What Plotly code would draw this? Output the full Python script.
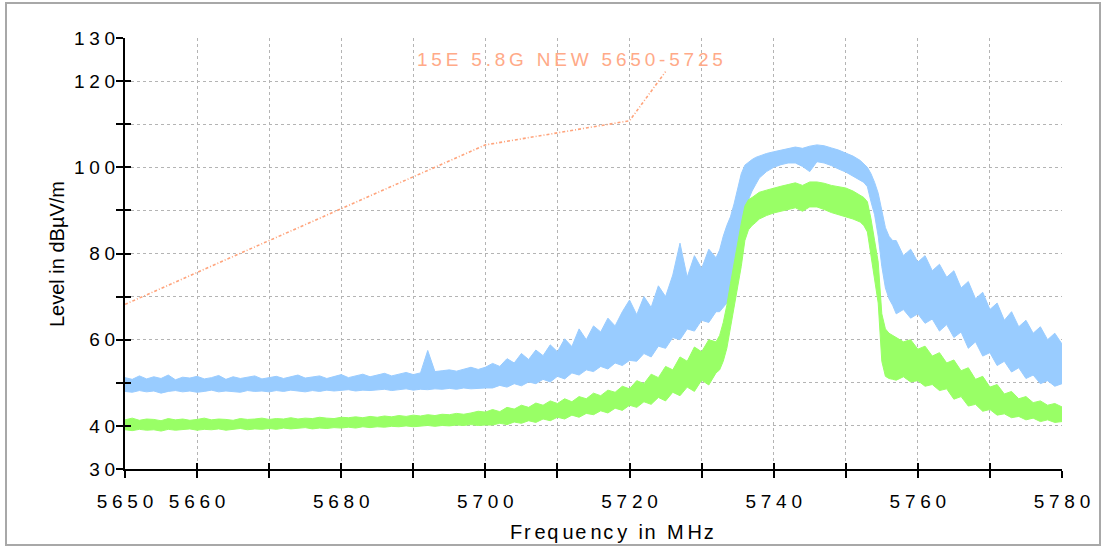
import plotly.graph_objects as go

# ---------------- data ----------------
freq_mhz = (list(range(5650, 5733))
            + [5732.5, 5733, 5733.5, 5734, 5734.5, 5735, 5735.5, 5736, 5736.5, 5737, 5737.5]
            + list(range(5738, 5753))
            + [5752.5, 5753, 5753.5, 5754, 5754.5, 5755, 5755.5, 5756, 5756.5]
            + list(range(5757, 5781)))

peak_max = [
    # 5650..5700
    51.2, 50.8, 51.6, 50.9, 51.4, 51.0, 51.8, 50.7, 51.3, 51.1,
    51.5, 50.9, 51.2, 51.7, 50.8, 51.4, 51.0, 51.3, 51.6, 50.9,
    51.2, 51.5, 51.0, 51.4, 51.8, 51.1, 51.3, 51.6, 51.0, 51.5,
    51.9, 51.2, 51.6, 52.0, 51.4, 51.8, 52.2, 51.6, 52.0, 52.4,
    51.9, 52.3, 57.5, 52.6, 52.8, 53.0, 52.7, 53.2, 53.6, 53.1,
    53.6,
    # 5701..5732
    54.5, 53.8, 55.6, 54.6, 56.8, 55.4, 57.6, 56.3, 58.8, 57.2,
    60.2, 58.4, 62.5, 60.0, 63.2, 61.8, 65.0, 63.2, 66.5, 69.2,
    65.8, 70.0, 67.5, 72.5, 70.0, 75.0, 82.4, 74.5, 79.5, 76.5,
    81.0, 79.0,
    # 5732.5..5737.5
    80.8, 84.0, 86.5, 88.5, 91.5, 95.0, 98.5, 100.5, 101.2, 101.8, 102.3,
    # 5738..5752
    102.6, 103.2, 103.6, 104.0, 104.4, 104.7, 104.4, 104.9, 105.2, 105.0,
    104.5, 104.0, 103.3, 102.6, 101.6,
    # 5752.5..5756.5
    100.8, 100.0, 98.5, 96.5, 94.0, 90.0, 86.0, 84.0, 83.0,
    # 5757..5780
    83.0, 79.5, 81.0, 78.0, 79.5, 76.0, 77.5, 74.5, 76.0, 72.0,
    73.5, 69.5, 71.0, 67.0, 68.5, 64.5, 66.5, 63.0, 64.5, 61.5,
    63.0, 60.0, 61.5, 59.0,
]
peak_min = [
    48.0, 47.8, 48.2, 47.9, 48.1, 47.6, 48.0, 48.2, 47.9, 48.1,
    47.8, 48.0, 48.3, 47.9, 48.1, 48.0, 47.8, 48.2, 48.0, 48.1,
    47.9, 48.2, 48.0, 48.3, 48.1, 47.9, 48.2, 48.0, 48.3, 48.1,
    48.2, 48.4, 48.1, 48.3, 48.2, 48.4, 48.5, 48.2, 48.4, 48.6,
    48.3, 48.5, 48.4, 48.6, 48.5, 48.7, 48.5, 48.8, 48.6, 48.7,
    48.8,
    48.8, 49.4, 49.0, 49.8, 49.3, 50.2, 49.8, 50.8, 50.2, 51.5,
    50.9, 52.3, 51.8, 53.0, 52.6, 53.8, 53.2, 54.6, 54.0, 55.2,
    55.0, 56.8, 56.0, 58.5, 58.0, 60.5, 60.0, 62.5, 62.0, 64.5,
    64.0, 66.5,
    66.5, 67.5, 68.5, 70.0, 72.0, 76.0, 83.0, 88.5, 92.5, 94.5, 96.0,
    97.5, 99.0, 100.0, 100.6, 101.0, 101.0, 100.2, 99.0, 101.3, 101.0,
    100.4, 99.6, 98.9, 98.0, 97.0,
    96.5, 95.5, 92.0, 89.0, 84.0, 77.0, 72.0, 69.5, 68.0,
    66.0, 67.0, 65.0, 66.0, 63.8, 64.8, 62.0, 63.5, 60.5, 61.8,
    58.0, 59.5, 56.2, 57.0, 54.0, 55.0, 52.5, 53.5, 51.0, 51.8,
    49.8, 50.5, 49.2, 49.8,
]
avg_max = [
    41.4, 41.8, 41.3, 41.6, 41.5, 41.2, 41.7, 41.4, 41.6, 41.3,
    41.5, 41.8, 41.4, 41.6, 41.5, 41.3, 41.7, 41.5, 41.6, 41.8,
    41.5, 41.7, 41.6, 41.9, 41.6, 41.8, 41.7, 42.0, 41.8, 41.7,
    42.0, 41.9, 42.1, 41.9, 42.2, 42.0, 42.3, 42.1, 42.4, 42.2,
    42.5, 42.3, 42.6, 42.4, 42.7, 42.6, 42.9, 42.7, 43.0, 43.4,
    43.2,
    43.8, 43.3, 44.3, 43.9, 44.8, 44.3, 45.3, 44.8, 45.8, 45.2,
    46.3, 45.6, 46.8, 46.3, 47.6, 47.0, 48.3, 47.8, 49.2, 48.6,
    50.5, 49.8, 52.0, 51.2, 53.8, 53.0, 56.0, 55.0, 58.3, 57.2,
    60.0, 59.5,
    61.0, 64.0, 68.0, 73.0, 78.0, 83.0, 87.0, 91.0, 92.5, 93.0, 93.6,
    94.2, 94.7, 95.2, 95.6, 96.0, 96.4, 95.8, 96.6, 96.6, 96.3,
    95.8, 95.5, 95.2, 94.5, 93.5,
    93.0, 92.0, 88.0, 83.0, 78.0, 66.0, 62.5, 61.5, 61.0,
    60.5, 59.5, 60.0, 57.8, 58.5, 56.2, 57.0, 54.6, 55.3, 52.8,
    53.5, 50.8, 51.5, 49.0, 49.6, 47.4, 48.0, 46.3, 46.8, 45.4,
    45.8, 44.8, 45.2, 44.4,
]
avg_min = [
    39.1, 38.9, 39.2, 39.0, 39.1, 38.8, 39.2, 39.0, 39.1, 39.3,
    39.0, 39.2, 39.1, 39.3, 39.0, 39.2, 39.4, 39.1, 39.3, 39.2,
    39.4, 39.2, 39.5, 39.3, 39.4, 39.6, 39.3, 39.5, 39.4, 39.6,
    39.5, 39.7, 39.5, 39.8, 39.6, 39.8, 39.7, 39.9, 39.8, 40.0,
    39.8, 40.0, 40.1, 39.9, 40.1, 40.0, 40.2, 40.1, 40.3, 40.1,
    40.2,
    40.2, 40.6, 40.3, 40.9, 40.6, 41.2, 40.8, 41.6, 41.2, 42.0,
    41.6, 42.5, 42.0, 42.9, 42.6, 43.5, 43.0, 44.1, 43.6, 44.8,
    44.3, 45.6, 45.0, 46.6, 45.8, 47.8, 47.0, 49.0, 48.0, 50.6,
    49.5, 52.3,
    53.0, 55.0, 58.0, 62.3, 68.0, 72.0, 77.0, 83.0, 85.5, 86.5, 87.2,
    88.0, 88.8, 89.4, 89.8, 90.2, 90.6, 89.8, 90.8, 90.8, 90.2,
    89.5, 89.0, 88.5, 88.0, 87.3,
    86.5, 85.0, 80.0, 74.0, 68.5, 55.0, 51.5, 51.0, 50.8,
    50.6, 51.4, 50.2, 50.5, 49.2, 49.6, 48.2, 48.6, 46.2, 46.8,
    44.6, 45.0, 43.4, 43.8, 42.5, 42.8, 41.9, 42.2, 41.4, 41.8,
    41.0, 41.4, 40.8, 41.0,
]

limit_freq = [5650, 5700, 5720, 5725]
limit_level = [68.2, 105.2, 110.8, 122.2]
limit_name = "15E 5.8G NEW 5650-5725"

x_tickvals = list(range(5650, 5790, 10))
x_ticktext = ["5650", "5660", "", "5680", "", "5700", "", "5720", "", "5740", "", "5760", "", "5780"]
y_tickvals = list(range(30, 140, 10))
y_ticktext = ["30", "40", "", "60", "", "80", "", "100", "", "120", "130"]
x_title = "Frequency in MHz"
y_title = "Level in dBµV/m"

# ---------------- styling ----------------
W, H = 1106, 547
L, R, T, B = 125, 44, 38, 78
FONT = "Liberation Sans, Arial, sans-serif"
SP = "\u2005"   # wide letter spacing for ticks
TS = "\u2009"   # thin spacing
HS = "\u200A"   # hair spacing


def spaced(s, sep):
    return sep.join(list(s))


def spaced_alt(s):
    out = ""
    for i, ch in enumerate(s):
        out += ch
        if i < len(s) - 1:
            out += TS if i % 2 else HS
    return out


fig = go.Figure()

def band(x, lo, hi, color):
    return go.Scatter(x=list(x) + list(x)[::-1], y=list(hi) + list(lo)[::-1],
                      fill="toself", fillcolor=color, mode="lines",
                      line=dict(color=color, width=1), hoverinfo="skip",
                      showlegend=False)

fig.add_trace(band(freq_mhz, peak_min, peak_max, "#99CCFF"))
fig.add_trace(band(freq_mhz, avg_min, avg_max, "#99FF66"))
fig.add_trace(go.Scatter(x=limit_freq, y=limit_level, mode="lines",
                         line=dict(color="#FFA47C", width=1.6, dash="3px,2px,1px,2px"),
                         showlegend=False))
# overlay axes give ticks that cross the axis line
fig.add_trace(go.Scatter(x=[], y=[], xaxis="x2", yaxis="y2", showlegend=False))

fig.add_annotation(x=5711.7, y=124.9, xref="x", yref="y",
                   text=spaced(limit_name, TS), showarrow=False,
                   font=dict(family=FONT, size=19, color="#FFAA88"))

axis_common = dict(showline=True, linecolor="black", linewidth=2, mirror=False,
                   ticks="outside", ticklen=7, tickwidth=1.5, tickcolor="black",
                   showgrid=True, gridcolor="#B4B4B4", gridwidth=1, griddash="dot",
                   zeroline=False, tickfont=dict(family=FONT, size=19, color="black"))

fig.update_layout(
    width=W, height=H,
    margin=dict(l=L, r=R, t=T, b=B),
    paper_bgcolor="white", plot_bgcolor="white",
    showlegend=False,
    xaxis=dict(range=[5650, 5780], tickmode="array", tickvals=x_tickvals,
               ticktext=[spaced(t, SP) for t in x_ticktext],
               ticklabelstandoff=7, **axis_common),
    yaxis=dict(range=[30, 130], tickmode="array", tickvals=y_tickvals,
               ticktext=[spaced(t, SP) for t in y_ticktext],
               ticklabelstandoff=-3, **axis_common),
    xaxis2=dict(range=[5650, 5780], overlaying="x", anchor="y2", side="bottom",
                tickmode="array", tickvals=x_tickvals, ticks="inside", ticklen=6,
                tickwidth=1.5, tickcolor="black", showticklabels=False,
                showgrid=False, zeroline=False, showline=False),
    yaxis2=dict(range=[30, 130], overlaying="y", anchor="x2", side="left",
                tickmode="array", tickvals=y_tickvals, ticks="inside", ticklen=6,
                tickwidth=1.5, tickcolor="black", showticklabels=False,
                showgrid=False, zeroline=False, showline=False),
)

pw, ph = W - L - R, H - T - B
def px(xp):
    return (xp - L) / pw
def py(yp):
    return (H - B - yp) / ph

# axis titles placed as annotations
fig.add_annotation(x=px(612), y=py(532), xref="paper", yref="paper",
                   text=spaced_alt(x_title), showarrow=False,
                   xanchor="center", yanchor="middle",
                   font=dict(family=FONT, size=20, color="black"))
fig.add_annotation(x=px(57), y=py(254), xref="paper", yref="paper",
                   text=y_title, textangle=-90, showarrow=False,
                   xanchor="center", yanchor="middle",
                   font=dict(family=FONT, size=20, color="black"))

fig.add_shape(type="rect", xref="paper", yref="paper",
              x0=px(6), x1=px(1100), y0=py(545), y1=py(3),
              line=dict(color="#A8A8A8", width=2), fillcolor="rgba(0,0,0,0)", layer="below")

fig.write_html("out.html", post_script="document.body.style.margin='0px';",
               config={"displayModeBar": False})
